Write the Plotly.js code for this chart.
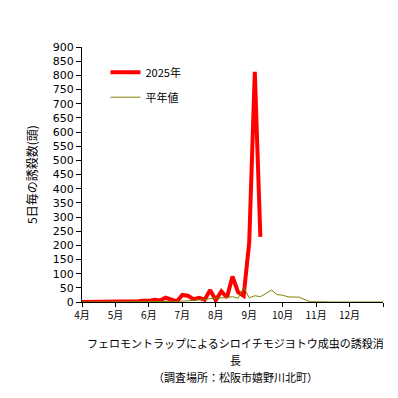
<!DOCTYPE html>
<html><head><meta charset="utf-8">
<script src="https://cdn.plot.ly/plotly-3.0.1.min.js"></script>
<style>html,body{margin:0;padding:0;background:#fff}#chart{width:398px;height:398px}</style>
</head><body><div id="chart"></div>
<script>
// 5-day periods (半旬) from 4月1日; index 0 = 4月第1半旬
const monthLabels = ["4月","5月","6月","7月","8月","9月","10月","11月","12月",""];
const monthTickIdx = [0,6,12,18,24,30,36,42,48,54];
const series2025 = [0,0,0,0,0,0,0,1,2,2,3,4,4,8,5,15,10,2,25,22,10,15,8,42,6,38,16,90,35,22,210,812,230];
const seriesAvg = [0,0,0,0,0,0,0,1,1,1,1,1,1,1,1,1,2,2,3,4,5,7,9,12,13,14,16,19,13,52,15,22,19,30,42,26,24,18,17,17,8,1,1,0,0,0,0,0,0,0,0,0,0,0,0];
const name2025 = "2025年";
const nameAvg = "平年値";
const xTitleLines = ["フェロモントラップによるシロイチモジヨトウ成虫の誘殺消", "長", "（調査場所：松阪市嬉野川北町）"];

const idx = a => a.map((_, i) => i);
const font = "'Noto Sans CJK JP', 'Noto Sans', sans-serif";

const traces = [
  {x: idx(series2025), y: series2025, name: name2025, type: 'scatter', mode: 'lines',
   line: {color: '#ff0000', width: 4}, legendgroup: 'a'},
  {x: idx(seriesAvg), y: seriesAvg, name: nameAvg, type: 'scatter', mode: 'lines',
   line: {color: '#808000', width: 1}, legendgroup: 'b'}
];
const annotations = xTitleLines.map((t, i) => ({
  text: t, xref: 'paper', yref: 'paper', x: 0.51, y: 0, xanchor: 'center', yanchor: 'middle',
  yshift: -41 - 17 * i, showarrow: false, font: {size: 11, family: font, color: '#000'}
}));
const layout = {
  width: 398, height: 398,
  margin: {l: 82, r: 15, t: 47, b: 96},
  paper_bgcolor: '#fff', plot_bgcolor: '#fff',
  font: {family: font, size: 11, color: '#000'},
  showlegend: true,
  legend: {x: 0.078, y: 0.958, xanchor: 'left', yanchor: 'top', bgcolor: 'rgba(0,0,0,0)',
           font: {size: 11}, tracegroupgap: 6, traceorder: 'grouped'},
  annotations: annotations,
  xaxis: {range: [0, 54], tickvals: monthTickIdx, ticktext: monthLabels,
          showgrid: false, zeroline: false, showline: true, linecolor: '#000', linewidth: 1,
          ticks: 'outside', ticklen: 4, tickcolor: '#000', tickfont: {size: 10}},
  yaxis: {range: [0, 900], dtick: 50, showgrid: false, zeroline: false,
          showline: true, linecolor: '#000', linewidth: 1,
          ticks: 'outside', ticklen: 5, tickcolor: '#000',
          tickfont: {size: 11, family: "'DejaVu Sans', sans-serif"},
          title: {text: "5日毎の誘殺数(頭)", font: {size: 12}, standoff: 12}}
};
Plotly.newPlot('chart', traces, layout, {displayModeBar: false, staticPlot: true});
</script></body></html>
